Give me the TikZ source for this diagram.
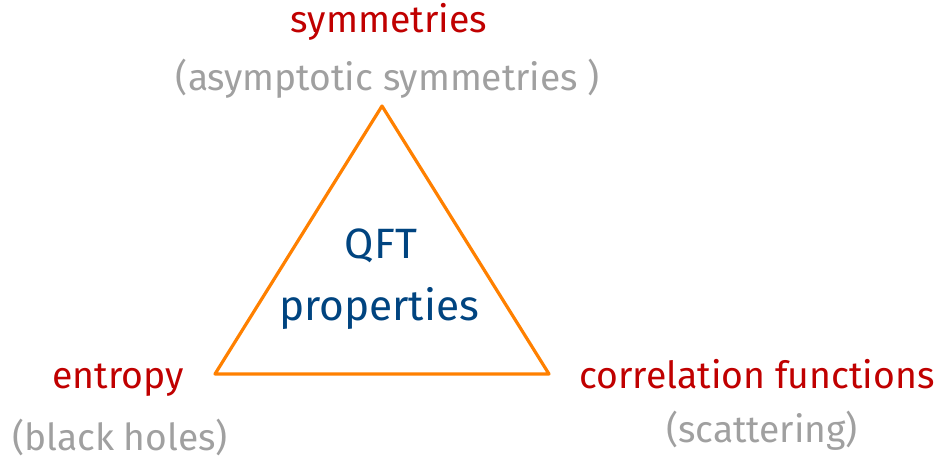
\documentclass[tikz,border=0pt]{standalone}
\usepackage{fontspec}
\setmainfont{Fira Sans}
\definecolor{tred}{RGB}{192,0,0}
\definecolor{tgray}{RGB}{160,160,160}
\definecolor{tblue}{RGB}{0,68,128}
\definecolor{torange}{RGB}{255,128,0}
\begin{document}
\begin{tikzpicture}[x=1pt,y=-1pt,
  redlbl/.style={text=tred,anchor=base,inner sep=0pt,font=\fontsize{37.4}{40}\selectfont},
  graylbl/.style={text=tgray,anchor=base,inner sep=0pt,font=\fontsize{37.2}{40}\selectfont},
  bluelbl/.style={text=tblue,anchor=base,inner sep=0pt,font=\fontsize{42.4}{46}\selectfont},
  edge/.style={draw=torange,line width=3.2pt,line join=round,line cap=round}]
\useasboundingbox (0,0) rectangle (938,459);
\coordinate (top) at (382,106);
\coordinate (bl) at (215,374);
\coordinate (br) at (549,374);
\draw[edge] (top) -- (bl) -- (br) -- cycle;
\node[redlbl] (sym) at (389,32) {symmetries};
\node[graylbl] (asym) at (388,90) {(asymptotic symmetries )};
\node[bluelbl] (qft) at (381,258) {QFT};
\node[bluelbl] (prop) at (379,320) {properties};
\node[redlbl] (ent) at (118,388) {entropy};
\node[graylbl] (bh) at (120,450) {(black holes)};
\node[redlbl] (corr) at (757,388) {correlation functions};
\node[graylbl] (scat) at (762,442) {(scattering)};
\end{tikzpicture}
\end{document}
